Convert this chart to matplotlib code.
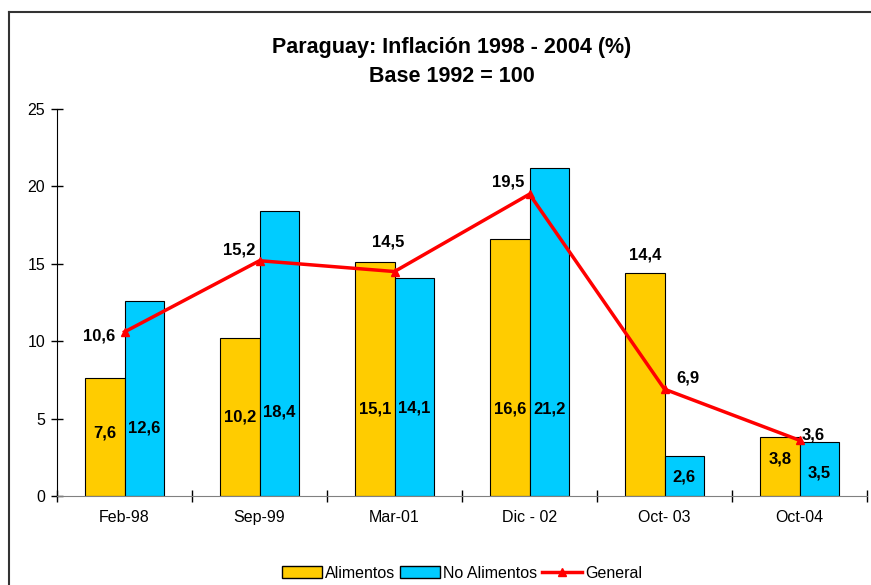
import matplotlib
matplotlib.use("Agg")
import matplotlib.pyplot as plt
from matplotlib.lines import Line2D
import numpy as np

plt.rcParams['font.family'] = ['Liberation Sans', 'DejaVu Sans']

categories = ["Feb-98", "Sep-99", "Mar-01", "Dic - 02", "Oct- 03", "Oct-04"]
alimentos = [7.6, 10.2, 15.1, 16.6, 14.4, 3.8]
no_alimentos = [12.6, 18.4, 14.1, 21.2, 2.6, 3.5]
general = [10.6, 15.2, 14.5, 19.5, 6.9, 3.6]
alim_labels = ["7,6", "10,2", "15,1", "16,6", "14,4", "3,8"]
noalim_labels = ["12,6", "18,4", "14,1", "21,2", "2,6", "3,5"]
gen_labels = ["10,6", "15,2", "14,5", "19,5", "6,9", "3,6"]
# label anchor heights (data units) as placed in the reference
alim_label_y = [4.1, 5.1, 5.6, 5.6, 15.6, 2.4]
noalim_label_y = [4.4, 5.4, 5.7, 5.6, 1.2, 1.5]
gen_label_dx = [-0.19, -0.15, -0.045, -0.155, 0.17, 0.1]
gen_label_dy = [-0.25, 0.71, 1.94, 0.78, 0.7, 0.33]

fig = plt.figure(figsize=(8.71, 5.85), dpi=100)
ax = fig.add_axes([57/871, 1-496/585, 810/871, 387/585])

x = np.arange(len(categories))
w = 0.29
ax.bar(x - w/2, alimentos, w, color="#FFCC00", edgecolor="black", linewidth=0.8, label="Alimentos", zorder=2)
ax.bar(x + w/2, no_alimentos, w, color="#00CCFF", edgecolor="black", linewidth=0.8, label="No Alimentos", zorder=2)
ax.plot(x, general, color="#FF0000", linewidth=2.5, marker="^", markersize=6, label="General", zorder=3)

lbl_fs = 12
for i in range(len(x)):
    ax.text(x[i] - w/2, alim_label_y[i], alim_labels[i], ha="center", va="center",
            fontsize=lbl_fs, fontweight="bold", zorder=4)
    ax.text(x[i] + w/2, noalim_label_y[i], noalim_labels[i], ha="center", va="center",
            fontsize=lbl_fs, fontweight="bold", zorder=4)
    ax.text(x[i] + gen_label_dx[i], general[i] + gen_label_dy[i], gen_labels[i], ha="center",
            va="center", fontsize=lbl_fs, fontweight="bold", zorder=4)

ax.set_xlim(-0.5, len(categories) - 0.5)
ax.set_ylim(0, 25)
ax.set_yticks([0, 5, 10, 15, 20, 25])
ax.set_xticks(x)
ax.set_xticklabels(categories)
ax.set_xticks(np.arange(-0.5, len(categories), 1.0), minor=True)
ax.tick_params(axis="x", which="major", length=0, pad=10, labelsize=11.5)
ax.tick_params(axis="x", which="minor", direction="inout", length=8, width=1)
ax.tick_params(axis="y", direction="inout", length=9, width=1, labelsize=11.5, pad=4)
for s in ["top", "right"]:
    ax.spines[s].set_visible(False)
ax.spines["left"].set_color("black")
ax.spines["bottom"].set_color("#808080")

fig.text(452/871, 1-47/585, "Paraguay: Inflación 1998 - 2004 (%)", ha="center", va="center",
         fontsize=15.5, fontweight="bold")
fig.text(452/871, 1-77/585, "Base 1992 = 100", ha="center", va="center",
         fontsize=15.5, fontweight="bold")

handles = [plt.Rectangle((0, 0), 1, 1, facecolor="#FFCC00", edgecolor="black"),
           plt.Rectangle((0, 0), 1, 1, facecolor="#00CCFF", edgecolor="black"),
           Line2D([0], [0], color="#FF0000", linewidth=2.5, marker="^", markersize=6)]
fig.legend(handles, ["Alimentos", "No Alimentos", "General"], loc="center",
           bbox_to_anchor=(462/871, 1-573/585), ncol=3, frameon=False, fontsize=11.5,
           handlelength=2.5, handleheight=0.8, handletextpad=0.2, columnspacing=0.3)

# outer chart frame
fig.add_artist(Line2D([9/871, 1.0], [1-12/585, 1-12/585], color="#333333", linewidth=1.5))
fig.add_artist(Line2D([9/871, 9/871], [1-12/585, 0], color="#333333", linewidth=1.5))

fig.savefig("out.png", dpi=100)
